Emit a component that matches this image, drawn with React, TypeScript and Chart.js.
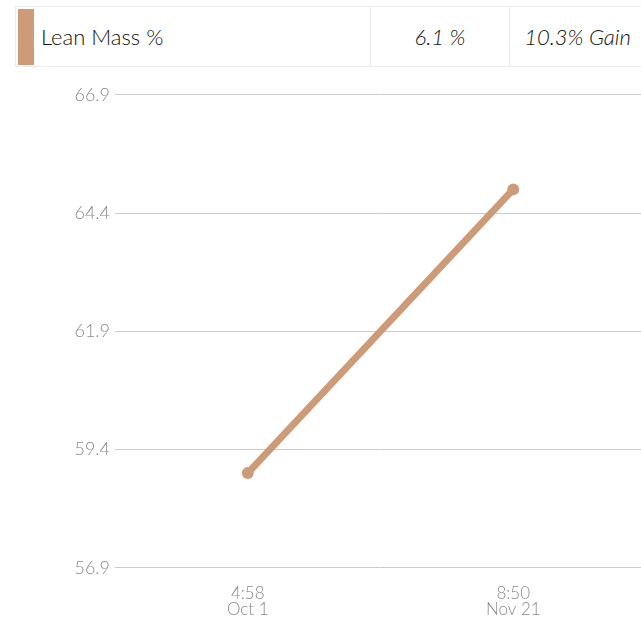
import React, { useEffect, useRef } from "react";
import { Chart, registerables } from "chart.js";

Chart.register(...registerables);

const seriesName = "Lean Mass %";
const changeText = "6.1 %";
const gainText = "10.3% Gain";
const timeLabels = ["4:58", "8:50"];
const dateLabels = ["Oct 1", "Nov 21"];
const leanMass = [58.9, 64.9];
const yMin = 56.9;
const yMax = 66.9;
const yStep = 2.5;

const COLOR = "#cd9b77";
const FONT = "Lato, 'Open Sans', sans-serif";

export default function App() {
  const ref = useRef<HTMLCanvasElement | null>(null);

  useEffect(() => {
    if (!ref.current) return;
    const chart = new Chart(ref.current, {
      type: "line",
      data: {
        labels: timeLabels.map((t, i) => [t, dateLabels[i]]),
        datasets: [
          {
            label: seriesName,
            data: leanMass,
            borderColor: COLOR,
            backgroundColor: COLOR,
            borderWidth: 7,
            pointRadius: 6,
            pointHoverRadius: 6,
            pointBackgroundColor: COLOR,
            pointBorderWidth: 0,
            tension: 0,
          },
        ],
      },
      options: {
        animation: false,
        responsive: true,
        maintainAspectRatio: false,
        layout: { padding: { left: 0, right: 0, top: 6, bottom: 0 } },
        plugins: { legend: { display: false }, tooltip: { enabled: false } },
        scales: {
          x: {
            type: "category",
            offset: true,
            grid: { display: false, drawTicks: false },
            border: { display: false },
            ticks: {
              color: "#8a8a8a",
              font: { family: FONT, size: 17, weight: 300 as any, lineHeight: 0.95 },
              padding: 18,
              maxRotation: 0,
            },
          },
          y: {
            min: yMin,
            max: yMax,
            grid: { color: "#cccccc", lineWidth: 1, drawTicks: false },
            border: { display: false },
            afterBuildTicks: (axis: any) => {
              const t = [];
              for (let v = yMin; v <= yMax + 1e-9; v += yStep) t.push({ value: v });
              axis.ticks = t;
            },
            afterFit: (axis: any) => {
              axis.width = 115;
            },
            ticks: {
              color: "#8a8a8a",
              font: { family: FONT, size: 18, weight: 300 as any },
              padding: 5,
              callback: (v: any) => Number(v).toFixed(1),
            },
          },
        },
      },
    });
    return () => chart.destroy();
  }, []);

  const cell: React.CSSProperties = {
    borderLeft: "1px solid #ececec",
    height: "100%",
    display: "flex",
    alignItems: "center",
    justifyContent: "center",
    fontStyle: "italic",
    boxSizing: "border-box",
  };

  return (
    <div
      style={{
        position: "fixed",
        left: 0,
        top: 0,
        width: 641,
        height: 618,
        overflow: "hidden",
        background: "#fff",
        fontFamily: FONT,
      }}
    >
      <div
        style={{
          position: "absolute",
          left: 15,
          top: 6,
          width: 640,
          height: 61,
          border: "1px solid #ececec",
          boxSizing: "border-box",
          display: "flex",
          alignItems: "center",
          color: "#111",
          fontSize: 22,
          fontWeight: 300,
        }}
      >
        <div style={{ width: 16, height: 56, background: COLOR, marginLeft: 2 }} />
        <div style={{ width: 336, paddingLeft: 7, boxSizing: "border-box" }}>{seriesName}</div>
        <div style={{ ...cell, width: 139 }}>{changeText}</div>
        <div style={{ ...cell, width: 136 }}>{gainText}</div>
      </div>
      <div style={{ position: "absolute", left: 0, top: 79, width: 652, height: 557 }}>
        <canvas ref={ref} />
      </div>
    </div>
  );
}
